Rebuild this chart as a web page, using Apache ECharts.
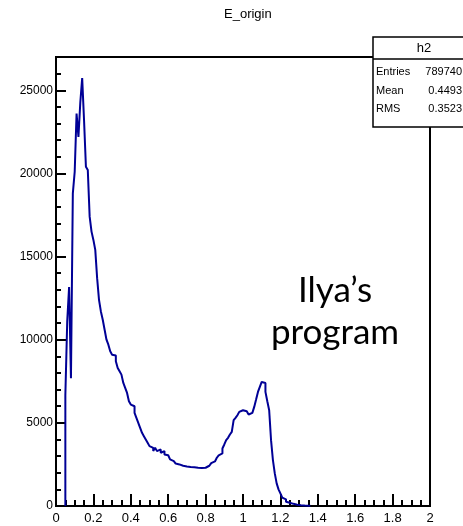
<!DOCTYPE html>
<html>
<head>
<meta charset="utf-8">
<script src="https://cdn.jsdelivr.net/npm/echarts@6/dist/echarts.min.js"></script>
<style>
html,body{margin:0;padding:0;background:#fff;}
#main{width:463px;height:526px;}
</style>
</head>
<body>
<div id="main"></div>
<script>
// Histogram h2 of E_origin, bins of width 0.01 on [0, 2]
const title = "E_origin";
const binWidth = 0.01;
const firstBin = 0.05;           // left edge of first non-empty bin
const counts = [
  6660, 11100, 13170, 7680, 18800, 20100, 23600, 22200, 24270, 25730,
  23200, 20400, 20200, 17400, 16500, 16000, 15400, 13700, 12400, 11700,
  11200, 10600, 10000, 9700, 9300, 9100, 9050, 8700, 8300, 8100,
  7900, 7400, 7100, 6800, 6300, 6100, 6000, 5600, 5300, 5000,
  4700, 4400, 4200, 4000, 3800, 3600, 3500, 3300, 3500, 3300,
  3400, 3200, 3300, 3100, 3050, 2950, 2800, 2700, 2600, 2550,
  2500, 2450, 2420, 2400, 2380, 2360, 2350, 2340, 2330, 2300,
  2300, 2290, 2280, 2260, 2300, 2350, 2420, 2500, 2580, 2680,
  2760, 2900, 3050, 3160, 3460, 3700, 3960, 4100, 4300, 4460,
  5160, 5300, 5460, 5660, 5760, 5860, 5700, 5600, 5500, 5600,
  5500, 5960, 6400, 6860, 7160, 7460, 7400, 6860, 6300, 5760,
  3960, 2760, 1960, 1360, 1000, 760, 500, 400, 260, 200,
  160, 130, 100, 80, 60, 50, 40, 30, 20, 15, 10
];
const statsName = "h2";
const statsLabels = ["Entries", "Mean", "RMS"];
const statsValues = ["789740", "0.4493", "0.3523"];
const noteLines = ["Ilya\u2019s", "program"];
const xTickLabels = ["0","0.2","0.4","0.6","0.8","1","1.2","1.4","1.6","1.8","2"];
const yTickLabels = ["0","5000","10000","15000","20000","25000"];

// step-line points at bin left edges
const pts = [[firstBin, 0]];
counts.forEach((c, i) => pts.push([+(firstBin + i * binWidth).toFixed(4), c]));
const lastEdge = +(firstBin + counts.length * binWidth).toFixed(4);
pts.push([lastEdge, 0]);

const chart = echarts.init(document.getElementById('main'), null, {renderer: 'canvas'});
const font = 'Liberation Sans, Arial, Helvetica, sans-serif';
const statsRows = [];
statsLabels.forEach((l, i) => {
  statsRows.push({type:'text', x: 376, y: 72 + i * 18.5,
    style:{text:l, font:'11px ' + font, fill:'#000', verticalAlign:'middle'}, z: 101});
  statsRows.push({type:'text', x: 462, y: 72 + i * 18.5,
    style:{text:statsValues[i], font:'11px ' + font, fill:'#000', textAlign:'right', verticalAlign:'middle'}, z: 101});
});

chart.setOption({
  animation: false,
  backgroundColor: '#fff',
  title: {text: title, left: 219, top: 3,
    textStyle:{fontFamily: font, fontSize: 13, fontWeight: 'normal', color:'#000'}},
  grid: {left: 56, right: 33, top: 57, bottom: 20, show: true,
    borderColor: '#000', borderWidth: 2, backgroundColor: 'transparent'},
  xAxis: {
    type: 'value', min: 0, max: 2, interval: 0.2,
    axisLine: {show: true, lineStyle:{color:'#000', width: 2}},
    axisTick: {show: true, inside: true, length: 12, lineStyle:{color:'#000', width: 2}},
    minorTick: {show: true, splitNumber: 4, length: 6, lineStyle:{color:'#000', width: 2}},
    splitLine: {show: false},
    axisLabel: {color:'#000', fontFamily: font, fontSize: 13, margin: 6,
      formatter: v => xTickLabels[Math.round(v / 0.2)] ?? ''}
  },
  yAxis: [{
    type: 'value', min: 0, max: 27000, interval: 1000,
    axisLine: {show: true, lineStyle:{color:'#000', width: 2}},
    axisTick: {show: true, inside: true, length: 5, lineStyle:{color:'#000', width: 2}},
    splitLine: {show: false},
    axisLabel: {show: false}
  }, {
    type: 'value', min: 0, max: 27000, interval: 5000, position: 'left',
    axisLine: {show: false},
    axisTick: {show: true, inside: true, length: 10, lineStyle:{color:'#000', width: 2}},
    splitLine: {show: false},
    axisLabel: {color:'#000', fontFamily: font, fontSize: 12, margin: 3,
      formatter: v => (v % 5000 === 0 && yTickLabels[v / 5000] !== undefined) ? yTickLabels[v / 5000] : ''}
  }],
  series: [{
    type: 'line', step: 'end', data: pts, showSymbol: false, symbol: 'none',
    lineStyle: {color: '#000096', width: 2}, z: 3
  }],
  graphic: [
    {type:'rect', shape:{x: 373, y: 37, width: 100, height: 90},
      style:{fill:'#fff', stroke:'#000', lineWidth: 1.5}, z: 100},
    {type:'line', shape:{x1: 373, y1: 59, x2: 463, y2: 59},
      style:{stroke:'#000', lineWidth: 1.5}, z: 101},
    {type:'text', x: 424, y: 48,
      style:{text: statsName, font:'13px ' + font, fill:'#000', textAlign:'center', verticalAlign:'middle'}, z: 101},
    ...statsRows,
    {type:'text', x: 335, y: 291,
      style:{text: noteLines[0], font:'35px Lato, sans-serif', fill:'#000', textAlign:'center', verticalAlign:'middle'}, z: 50},
    {type:'text', x: 335, y: 333,
      style:{text: noteLines[1], font:'35px Lato, sans-serif', fill:'#000', textAlign:'center', verticalAlign:'middle'}, z: 50}
  ]
});
</script>
</body>
</html>
